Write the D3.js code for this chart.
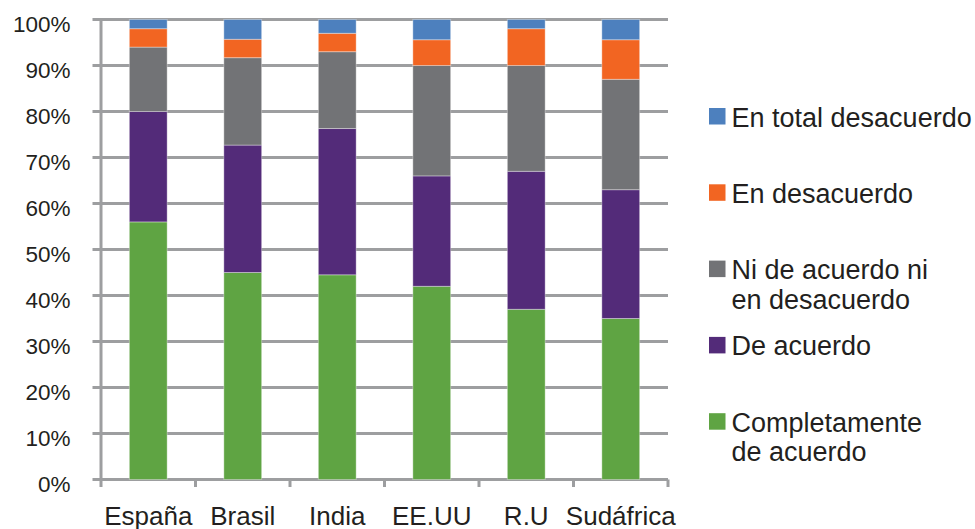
<!DOCTYPE html>
<html>
<head>
<meta charset="utf-8">
<script src="https://cdn.jsdelivr.net/npm/d3@7"></script>
<style>
  html, body { margin: 0; padding: 0; background: #ffffff; }
  svg { display: block; font-family: "Liberation Sans", Arial, sans-serif; }
</style>
</head>
<body>
<svg id="chart" width="975" height="529"></svg>
<script>
// ---- Data (percentages) ----
const categories = ["España", "Brasil", "India", "EE.UU", "R.U", "Sudáfrica"];
const completamenteDeAcuerdo = [56, 45, 44.5, 42, 37, 35];
const deAcuerdo = [24, 27.7, 31.8, 24, 30, 28];
const niDeAcuerdoNiEnDesacuerdo = [14, 19, 16.7, 24, 23, 24];
const enDesacuerdo = [4, 4, 4, 5.6, 8, 8.6];
const enTotalDesacuerdo = [2, 4.3, 3, 4.4, 2, 4.4];
const yTickLabels = ["0%", "10%", "20%", "30%", "40%", "50%", "60%", "70%", "80%", "90%", "100%"];

const seriesKeys = ["comp", "de", "ni", "des", "tot"];
const seriesLabels = {
  comp: ["Completamente", "de acuerdo"],
  de: ["De acuerdo"],
  ni: ["Ni de acuerdo ni", "en desacuerdo"],
  des: ["En desacuerdo"],
  tot: ["En total desacuerdo"]
};
const seriesColors = {
  comp: "#5fa443",
  de: "#532b79",
  ni: "#727376",
  des: "#f26522",
  tot: "#4d80be"
};

const table = categories.map((c, i) => ({
  cat: c,
  comp: completamenteDeAcuerdo[i],
  de: deAcuerdo[i],
  ni: niDeAcuerdoNiEnDesacuerdo[i],
  des: enDesacuerdo[i],
  tot: enTotalDesacuerdo[i]
}));

// ---- Layout ----
const svg = d3.select("#chart");
const plotLeft = 101, plotRight = 668, plotTop = 19.5, plotBottom = 479.5;
const gridColor = "#9d9ea0";
const textColor = "#231f20";

const y = d3.scaleLinear().domain([0, 100]).range([plotBottom, plotTop]);
const x = d3.scaleBand().domain(categories).range([plotLeft, plotRight])
  .paddingInner(0.6).paddingOuter(0.3);
const outerPad = x.step() * 0.3;

// Gridlines (horizontal)
const yTicks = d3.range(0, 101, 10);
svg.append("g").selectAll("line").data(yTicks).join("line")
  .attr("x1", plotLeft - 8.5).attr("x2", plotRight)
  .attr("y1", d => y(d)).attr("y2", d => y(d))
  .attr("stroke", gridColor).attr("stroke-width", 3);

// Y axis line
svg.append("line")
  .attr("x1", plotLeft).attr("x2", plotLeft)
  .attr("y1", plotTop - 1.5).attr("y2", plotBottom + 7.5)
  .attr("stroke", gridColor).attr("stroke-width", 3);

// Category boundary ticks
const boundaries = categories.map(c => x(c) - outerPad).concat([plotRight]);
svg.append("g").selectAll("line").data(boundaries.slice(1)).join("line")
  .attr("x1", d => d).attr("x2", d => d)
  .attr("y1", plotBottom).attr("y2", plotBottom + 7.5)
  .attr("stroke", gridColor).attr("stroke-width", 3);

// Y tick labels
svg.append("g").selectAll("text").data(yTicks).join("text")
  .attr("x", 70.5).attr("y", d => y(d) + 12)
  .attr("text-anchor", "end")
  .attr("font-size", 22.5)
  .attr("fill", textColor)
  .text((d, i) => yTickLabels[i]);

// Stacked bars
const stack = d3.stack().keys(seriesKeys);
const layers = stack(table);
svg.append("g").selectAll("g").data(layers).join("g")
  .attr("fill", d => seriesColors[d.key])
  .selectAll("rect").data(d => d).join("rect")
  .attr("x", d => x(d.data.cat))
  .attr("width", x.bandwidth())
  .attr("y", d => y(d[1]))
  .attr("height", d => y(d[0]) - y(d[1]))
  .attr("stroke", "rgba(255,255,255,0.35)")
  .attr("stroke-width", 1);

// X labels
svg.append("g").selectAll("text").data(categories).join("text")
  .attr("x", d => x(d) + x.bandwidth() / 2)
  .attr("y", 524.5)
  .attr("text-anchor", "middle")
  .attr("font-size", 26)
  .attr("fill", textColor)
  .text(d => d);

// Legend
const legendOrder = ["tot", "des", "ni", "de", "comp"];
const legendTop = 108, legendStep = 76.3;
const lg = svg.append("g").selectAll("g").data(legendOrder).join("g")
  .attr("transform", (d, i) => `translate(709, ${legendTop + i * legendStep})`);
lg.append("rect")
  .attr("width", 16.5).attr("height", 16.5)
  .attr("fill", d => seriesColors[d]);
lg.append("text")
  .attr("x", 22.5)
  .attr("font-size", 27)
  .attr("fill", textColor)
  .selectAll("tspan").data(d => seriesLabels[d]).join("tspan")
  .attr("x", 22.5)
  .attr("y", (d, i) => 18.5 + i * 29.5)
  .text(d => d);
</script>
</body>
</html>
